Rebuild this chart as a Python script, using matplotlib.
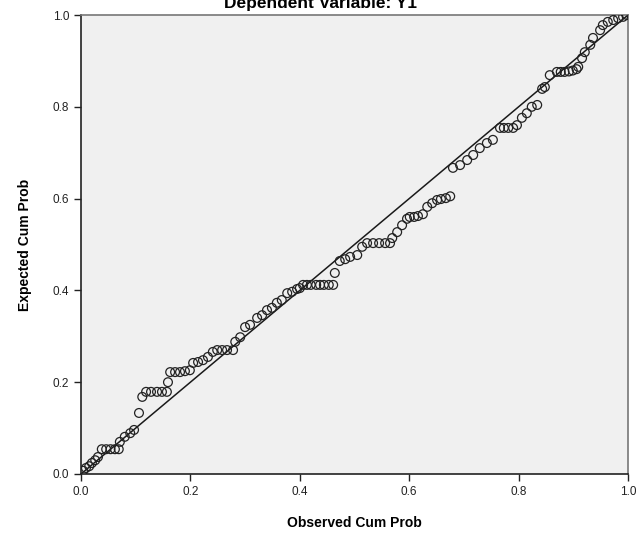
import matplotlib.pyplot as plt
import numpy as np

# === CONFIG ===
output_plot = "out.png"
plt.rcParams['font.family'] = ['Liberation Sans', 'DejaVu Sans']

# === DATA ===
obs_cum_prob = [
    0.004, 0.009, 0.015, 0.020, 0.026, 0.031,
    0.038, 0.046, 0.054, 0.062, 0.069,
    0.071, 0.080, 0.090, 0.097, 0.106, 0.112,
    0.119, 0.128, 0.139, 0.148, 0.157,
    0.159, 0.163, 0.172, 0.181, 0.190, 0.199,
    0.205, 0.214, 0.223, 0.232, 0.241,
    0.249, 0.258, 0.267, 0.278,
    0.282, 0.291, 0.300, 0.309, 0.322, 0.331, 0.340, 0.349, 0.358, 0.367,
    0.377, 0.386, 0.395, 0.400,
    0.406, 0.413, 0.420, 0.430, 0.437, 0.444, 0.453, 0.461,
    0.464,
    0.473, 0.483, 0.492, 0.505, 0.514,
    0.523, 0.534, 0.545, 0.556, 0.565,
    0.569, 0.578, 0.587, 0.596,
    0.601, 0.609, 0.616, 0.625,
    0.633, 0.642, 0.651, 0.658, 0.667, 0.675,
    0.680, 0.693, 0.706, 0.717, 0.729, 0.742, 0.753,
    0.766, 0.773, 0.781, 0.790,
    0.797, 0.806, 0.815, 0.824, 0.834, 0.843, 0.848, 0.857,
    0.870, 0.877, 0.884, 0.892, 0.899, 0.906,
    0.909, 0.916, 0.921, 0.931, 0.936, 0.949, 0.954, 0.963, 0.973, 0.982,
    0.991, 0.998,
]
exp_cum_prob = [
    0.007, 0.013, 0.017, 0.024, 0.030, 0.037,
    0.054, 0.054, 0.054, 0.054, 0.054,
    0.070, 0.081, 0.089, 0.096, 0.133, 0.168,
    0.179, 0.179, 0.179, 0.179, 0.179,
    0.200, 0.222, 0.222, 0.222, 0.224, 0.226,
    0.242, 0.244, 0.248, 0.255, 0.266,
    0.270, 0.270, 0.270, 0.270,
    0.288, 0.298, 0.320, 0.325, 0.340, 0.346, 0.357, 0.362, 0.373, 0.379,
    0.394, 0.397, 0.403, 0.405,
    0.412, 0.412, 0.412, 0.412, 0.412, 0.412, 0.412, 0.412,
    0.438,
    0.464, 0.468, 0.473, 0.477, 0.495,
    0.503, 0.503, 0.503, 0.503, 0.503,
    0.514, 0.527, 0.542, 0.556,
    0.560, 0.560, 0.562, 0.566,
    0.582, 0.590, 0.597, 0.599, 0.601, 0.605,
    0.667, 0.673, 0.684, 0.695, 0.710, 0.721, 0.728,
    0.754, 0.754, 0.754, 0.754,
    0.760, 0.776, 0.786, 0.800, 0.804, 0.839, 0.843, 0.869,
    0.876, 0.876, 0.876, 0.877, 0.879, 0.882,
    0.887, 0.906, 0.919, 0.935, 0.950, 0.967, 0.978, 0.985, 0.989, 0.993,
    0.996, 1.000,
]

ticks = [0.0, 0.2, 0.4, 0.6, 0.8, 1.0]
tick_labels = ["0.0", "0.2", "0.4", "0.6", "0.8", "1.0"]

# === PLOT ===
fig = plt.figure(figsize=(6.41, 5.36), dpi=100)
ax = fig.add_axes([81 / 641, 62 / 536, 547 / 641, 459 / 536])
ax.set_facecolor("#f0f0f0")

ax.plot([0, 1], [0, 1], color="#1a1a1a", linewidth=1.1, zorder=2)
ax.scatter(obs_cum_prob, exp_cum_prob, s=40, facecolors="none",
           edgecolors="#222222", linewidths=0.9, zorder=3)

ax.set_xlim(0, 1)
ax.set_ylim(0, 1)
ax.set_xticks(ticks)
ax.set_xticklabels(tick_labels)
ax.set_yticks(ticks)
ax.set_yticklabels(tick_labels)
ax.tick_params(direction="out", length=5, width=1, labelsize=8.5, colors="#222222")

for side in ["left", "bottom"]:
    ax.spines[side].set_color("#222222")
    ax.spines[side].set_linewidth(1.2)
for side in ["top", "right"]:
    ax.spines[side].set_color("#777777")
    ax.spines[side].set_linewidth(1.2)

ax.set_xlabel("Observed Cum Prob", fontsize=10, fontweight="bold", labelpad=13)
ax.set_ylabel("Expected Cum Prob", fontsize=10, fontweight="bold", labelpad=15)

# title is partly clipped by the top edge, as in the source image
fig.text(0.50, 1 - 8 / 536, "Dependent Variable: Y1", ha="center", va="baseline",
         fontsize=12.5, fontweight="bold")

plt.savefig(output_plot, dpi=100)
plt.close()
